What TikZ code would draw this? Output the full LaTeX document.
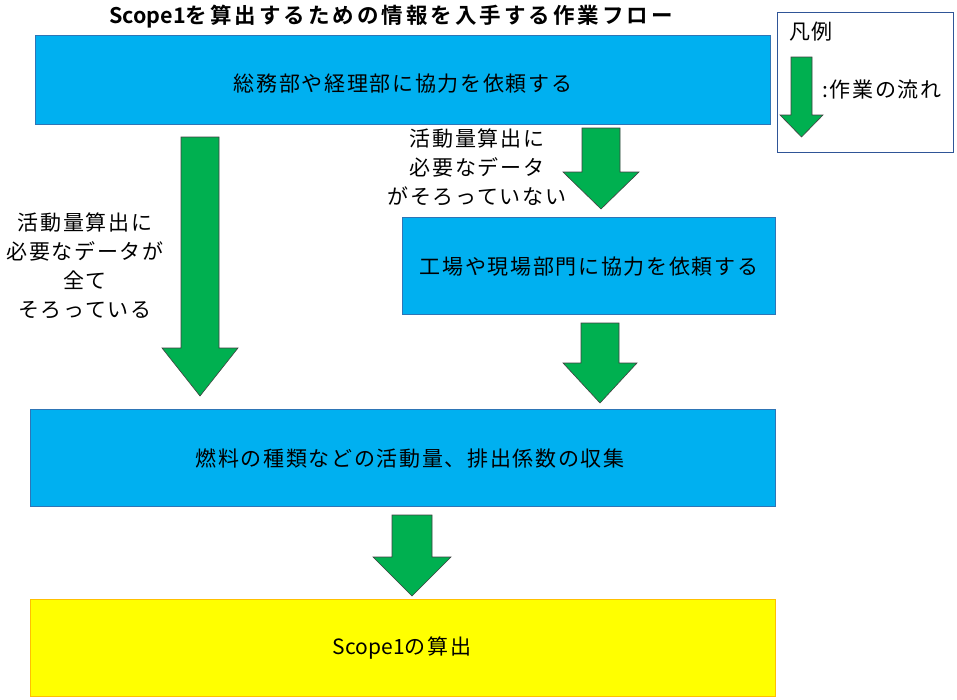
\documentclass[tikz,border=0pt]{standalone}
\usepackage{fontspec}
\setmainfont{Noto Sans CJK JP}[BoldFont={Noto Sans CJK JP Bold}]
\newfontfamily\jpfont{Noto Sans CJK JP}[LetterSpace=8]
\newfontfamily\jpboldfont{Noto Sans CJK JP Bold}[LetterSpace=14]
\newfontfamily\latnfont{Noto Sans CJK JP}
\newfontfamily\latnboldfont{Noto Sans CJK JP Bold}
\definecolor{boxblue}{HTML}{00B0F0}
\definecolor{boxblueedge}{HTML}{2E75B6}
\definecolor{flowgreen}{HTML}{00B050}
\definecolor{boxyellow}{HTML}{FFFF00}
\definecolor{yellowedge}{HTML}{FFC000}
\definecolor{legendedge}{HTML}{2F5597}
\tikzset{
  bluebox/.style={draw=boxblueedge, line width=0.8pt, fill=boxblue, inner sep=0pt, anchor=north west},
  yellowbox/.style={draw=yellowedge, line width=0.8pt, fill=boxyellow, inner sep=0pt, anchor=north west},
  boxtext/.style={font=\jpfont\fontsize{21pt}{29pt}\selectfont, text=black, inner sep=0pt, align=center},
  titletext/.style={font=\jpboldfont\fontsize{21.5pt}{26pt}\selectfont, text=black, inner sep=0pt},
  flowarrow/.style={draw=black!75, line width=0.6pt, fill=flowgreen, line join=miter},
}
% #1 centre x, #2 top y, #3 shaft half width, #4 head half width, #5 head start y, #6 tip y
\newcommand{\blkarrow}[6]{%
  \draw[flowarrow] (#1-#3,#2) -- (#1+#3,#2) -- (#1+#3,#5) -- (#1+#4,#5) -- (#1,#6)
    -- (#1-#4,#5) -- (#1-#3,#5) -- cycle;}
\begin{document}
\begin{tikzpicture}[x=1pt,y=-1pt]
\useasboundingbox (0,0) rectangle (957,699);
\fill[white] (0,0) rectangle (957,699);

% title
\node[titletext] (title) at (391,17) {{\latnboldfont Scope1}を算出するための情報を入手する作業フロー};

% boxes
\node[bluebox, minimum width=735pt, minimum height=89pt] (b1) at (35,35) {};
\node[boxtext] (t1) at (403,84) {総務部や経理部に協力を依頼する};

\node[bluebox, minimum width=373pt, minimum height=97pt] (b2) at (402,217) {};
\node[boxtext] (t2) at (589,267) {工場や現場部門に協力を依頼する};

\node[bluebox, minimum width=745pt, minimum height=97pt] (b3) at (30,409) {};
\node[boxtext] (t3) at (410,459) {燃料の種類などの活動量、排出係数の収集};

\node[yellowbox, minimum width=745pt, minimum height=97pt] (b4) at (30,599) {};
\node[boxtext] (t4) at (402,648) {{\latnfont Scope1}の算出};

% side notes
\node[boxtext] (n1) at (85,266) {活動量算出に\\必要なデータが\\全て\\そろっている};
\node[boxtext] (n2) at (477,167) {活動量算出に\\必要なデータ\\がそろっていない};

% flow arrows
\blkarrow{200}{137}{19}{38}{348}{396}
\blkarrow{601}{128}{19}{38}{172}{209}
\blkarrow{600}{323}{19}{37}{363}{403}
\blkarrow{412}{515}{20}{39}{557}{596}

% legend
\node[draw=legendedge, line width=0.8pt, inner sep=0pt, anchor=north west, minimum width=176pt, minimum height=140pt] (leg) at (777,12) {};
\node[boxtext] (legt) at (811,32) {凡例};
\blkarrow{801.5}{57}{10.5}{21.5}{115}{137}
\node[boxtext] (legl) at (882,90) {:作業の流れ};
\end{tikzpicture}
\end{document}
